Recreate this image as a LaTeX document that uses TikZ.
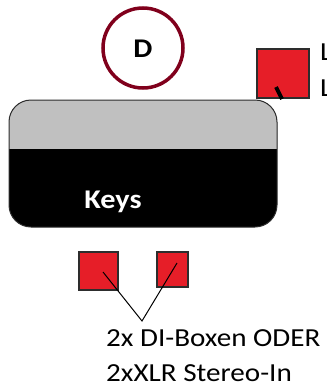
\documentclass[tikz,border=0pt]{standalone}
\usepackage{fontspec}
\setmainfont{Carlito}[FakeStretch=1.12]
\definecolor{ringRed}{RGB}{128, 0, 28}
\definecolor{boxRed}{RGB}{230, 30, 40}
\definecolor{keyGray}{RGB}{192, 192, 192}
\definecolor{edgeGray}{RGB}{45, 45, 45}

\begin{document}
\begin{tikzpicture}[x=1pt, y=-1pt,
    inbox/.style={draw=edgeGray, fill=boxRed, line width=1.2pt},
    wire/.style={line width=1pt, black},
    caption/.style={anchor=base west, inner sep=0pt, font=\fontsize{26}{30}\selectfont}]
      \useasboundingbox (0,0) rectangle (327,386);
      % Kreis mit D
      \draw[ringRed, line width=3.5pt] (143,48) circle (40);
      \node[font=\fontsize{27}{30}\selectfont\bfseries] (dlabel) at (143,49) {D};

      % Keys
      \fill[black, rounded corners=22pt] (9,100) rectangle (277,227);
      \begin{scope}
        \clip (0,90) rectangle (327,148);
        \fill[keyGray, rounded corners=22pt] (9,100) rectangle (277,227);
      \end{scope}
      \draw[edgeGray, line width=1pt, rounded corners=22pt] (9,100) rectangle (277,227);
      \node[anchor=base, inner sep=0pt, text=white, font=\fontsize{27}{30}\selectfont\bfseries] (keys) at (113,208) {Keys};

      % Eingang oben rechts
      \draw[inbox] (257,49) rectangle (309,98);
      \coordinate (plugA) at (276,87);
      \coordinate (plugB) at (282,99);
      \draw[black, line width=4pt] (plugA) -- (plugB);
      \node[caption] (lineA) at (320,60) {L};
      \node[caption] (lineB) at (320,96) {L};

      % DI-Boxen
      \draw[inbox] (79,252) rectangle (118,290);
      \draw[inbox] (157,252) rectangle (188,287);
      \coordinate (diL) at (103,272);
      \coordinate (diR) at (177,263);
      \coordinate (tip) at (142,321);
      \draw[wire] (diL) -- (tip) -- (diR);
      \node[caption] (noteA) at (106,346) {2x DI-Boxen ODER};
      \node[caption] (noteB) at (106,381) {2xXLR Stereo-In};
\end{tikzpicture}
\end{document}
